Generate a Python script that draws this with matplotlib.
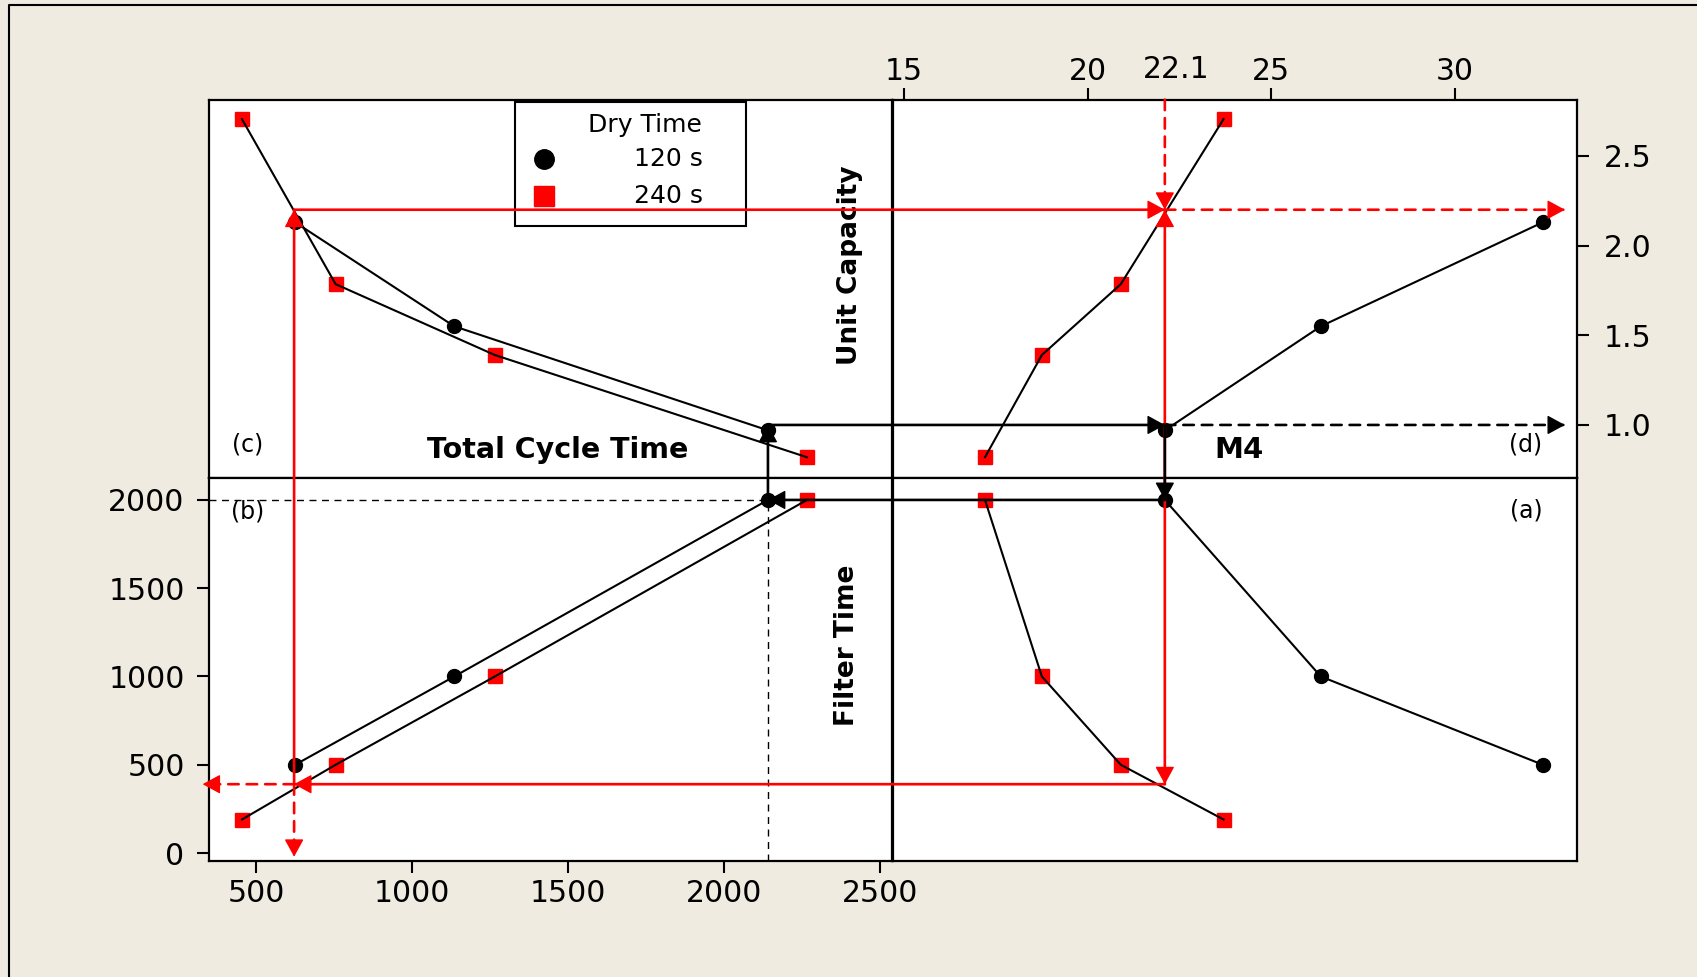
import matplotlib
matplotlib.use("Agg")
import matplotlib.pyplot as plt
from matplotlib.patches import ConnectionPatch, Rectangle
from matplotlib.lines import Line2D
from matplotlib.text import Annotation

# measured points, two dry times
filter_120 = [500, 1000, 2000]
filter_240 = [190, 500, 1000, 2000]
cycle_120 = [625, 1135, 2140]
cycle_240 = [455, 755, 1265, 2265]
m4_120 = [32.4, 26.35, 22.1]
m4_240 = [23.7, 20.9, 18.75, 17.2]
cap_120 = [2.13, 1.55, 0.97]
cap_240 = [2.705, 1.785, 1.39, 0.82]

# reading path starting from M4 = 22.1
path_m4 = 22.1
red_cap, red_filter, red_cycle = 2.2, 390, 622
black_cap, black_filter, black_cycle = 1.0, 2000, 2140

cycle_ticks = [500, 1000, 1500, 2000, 2500]
filter_ticks = [0, 500, 1000, 1500, 2000]
m4_ticks = [15, 20, 25, 30]
cap_ticks = [1.0, 1.5, 2.0, 2.5]
cap_labels = ["1.0", "1.5", "2.0", "2.5"]

cycle_lim = (349, 2539)
filter_lim = (-45, 2122)
m4_lim = (14.68, 33.33)
cap_lim = (0.702, 2.814)

W, H = 1697, 977
BG = "#EFEBE1"

fig = plt.figure(figsize=(W / 100, H / 100), dpi=100, facecolor=BG)


def fx(px):
    return px / W


def fy(py):
    return 1 - py / H


def box(l, t, r, b):
    return [l / W, 1 - b / H, (r - l) / W, (b - t) / H]


x0, xm, x1 = 208.9, 892.5, 1577
y0, ym, y1 = 99.6, 478.4, 861

ax_c = fig.add_axes(box(x0, y0, xm, ym))
ax_d = fig.add_axes(box(xm, y0, x1, ym))
ax_b = fig.add_axes(box(x0, ym, xm, y1))
ax_a = fig.add_axes(box(xm, ym, x1, y1))

for ax in (ax_a, ax_b, ax_c, ax_d):
    ax.set_facecolor("white")
    for sp in ax.spines.values():
        sp.set_linewidth(1.6)
        sp.set_color("black")
    ax.tick_params(which="both", direction="out", length=8.5, width=1.5,
                   labelsize=21.5, colors="black")
    ax.set_xticks([])
    ax.set_yticks([])

ax_c.set_xlim(cycle_lim); ax_c.set_ylim(cap_lim)
ax_b.set_xlim(cycle_lim); ax_b.set_ylim(filter_lim)
ax_d.set_xlim(m4_lim); ax_d.set_ylim(cap_lim)
ax_a.set_xlim(m4_lim); ax_a.set_ylim(filter_lim)

ax_b.set_xticks(cycle_ticks)
ax_b.set_yticks(filter_ticks)
ax_b.tick_params(axis="y", pad=9)
ax_b.tick_params(axis="x", pad=4.5)

ax_d.set_xticks(m4_ticks)
ax_d.xaxis.tick_top()
ax_d.tick_params(axis="x", pad=1)
ax_d.set_yticks(cap_ticks, cap_labels)
ax_d.yaxis.tick_right()
ax_d.tick_params(axis="y", pad=11)


def series(ax, xs, ys, marker, color):
    ax.plot(xs, ys, color="black", lw=1.5, zorder=3)
    ax.plot(xs, ys, ls="none", marker=marker, ms=10, color=color,
            mec=color, zorder=2)


series(ax_c, cycle_120, cap_120, "o", "black")
series(ax_c, cycle_240, cap_240, "s", "red")
series(ax_d, m4_120, cap_120, "o", "black")
series(ax_d, m4_240, cap_240, "s", "red")
series(ax_b, cycle_120, filter_120, "o", "black")
series(ax_b, cycle_240, filter_240, "s", "red")
series(ax_a, m4_120, filter_120, "o", "black")
series(ax_a, m4_240, filter_240, "s", "red")

# thin guides down to the cycle-time and filter-time axes
ax_b.hlines(black_filter, cycle_lim[0], black_cycle, colors="black",
            lw=1.0, linestyles=(0, (5, 4)), zorder=1)
ax_b.vlines(black_cycle, filter_lim[0], black_filter, colors="black",
            lw=1.0, linestyles=(0, (5, 4)), zorder=1)

DASH = (0, (4, 3))
HEAD = 0.55
MS = 20
dirs = {"right": (1, 0), "left": (-1, 0), "up": (0, 1), "down": (0, -1)}


def link(p, q, color, ls="-"):
    (axa, xa, ya), (axb, xb, yb) = p, q
    con = ConnectionPatch(xyA=(xa, ya), coordsA=axa.transData,
                          xyB=(xb, yb), coordsB=axb.transData,
                          color=color, lw=1.9, linestyle=ls, zorder=5)
    fig.add_artist(con)


def head(ax, x, y, d, color):
    ux, uy = dirs[d]
    L = HEAD * MS
    ann = Annotation("", xy=(x, y), xycoords=ax.transData,
                     xytext=(-ux * L, -uy * L), textcoords="offset points",
                     arrowprops=dict(arrowstyle=f"-|>,head_length={HEAD},head_width=0.3",
                                     mutation_scale=MS, color=color, lw=1,
                                     shrinkA=0, shrinkB=0),
                     zorder=6)
    fig.add_artist(ann)


# red path
link((ax_c, red_cycle, red_cap), (ax_d, path_m4, red_cap), "red")
head(ax_d, path_m4, red_cap, "right", "red")
link((ax_d, path_m4, cap_lim[1]), (ax_d, path_m4, red_cap), "red", DASH)
head(ax_d, path_m4, red_cap, "down", "red")
link((ax_d, path_m4, red_cap), (ax_d, 33.0, red_cap), "red", DASH)
head(ax_d, 33.0, red_cap, "right", "red")
link((ax_a, path_m4, red_filter), (ax_d, path_m4, red_cap), "red")
head(ax_d, path_m4, red_cap, "up", "red")
head(ax_a, path_m4, red_filter, "down", "red")
link((ax_a, path_m4, red_filter), (ax_b, red_cycle, red_filter), "red")
head(ax_b, red_cycle, red_filter, "left", "red")
link((ax_b, red_cycle, red_filter), (ax_b, 329, red_filter), "red", DASH)
head(ax_b, 329, red_filter, "left", "red")
link((ax_b, red_cycle, red_filter), (ax_c, red_cycle, red_cap), "red")
head(ax_c, red_cycle, red_cap, "up", "red")
link((ax_b, red_cycle, red_filter), (ax_b, red_cycle, -21), "red", DASH)
head(ax_b, red_cycle, -21, "down", "red")

# black path
link((ax_c, black_cycle, black_cap), (ax_d, path_m4, black_cap), "black")
head(ax_d, path_m4, black_cap, "right", "black")
link((ax_d, path_m4, black_cap), (ax_d, 33.0, black_cap), "black", DASH)
head(ax_d, 33.0, black_cap, "right", "black")
link((ax_d, path_m4, black_cap), (ax_a, path_m4, black_filter), "black")
head(ax_a, path_m4, black_filter, "down", "black")
link((ax_a, path_m4, black_filter), (ax_b, black_cycle, black_filter), "black")
head(ax_b, black_cycle, black_filter, "left", "black")
link((ax_b, black_cycle, black_filter), (ax_c, black_cycle, black_cap), "black")
head(ax_c, black_cycle, black_cap, "up", "black")

# label for the M4 reading on the top axis
ax_d.annotate("22.1", xy=(path_m4, 1.0), xycoords=("data", "axes fraction"),
              xytext=(8, 11), textcoords="offset points", ha="center",
              va="bottom", fontsize=21.5, annotation_clip=False)

# quadrant titles and letters
fig.text(fx(849.6), fy(265), "Unit Capacity", rotation=90, ha="center",
         va="center", fontsize=19, fontweight="bold")
fig.text(fx(847.4), fy(645), "Filter Time", rotation=90, ha="center",
         va="center", fontsize=19, fontweight="bold")
fig.text(fx(557.4), fy(450.2), "Total Cycle Time", ha="center", va="center",
         fontsize=20.5, fontweight="bold")
fig.text(fx(1239), fy(450.2), "M4", ha="center", va="center",
         fontsize=21, fontweight="bold")
for lab, px, py in [("(c)", 247.8, 444.8), ("(d)", 1526, 444.8),
                    ("(b)", 247.8, 512), ("(a)", 1526, 510.8)]:
    fig.text(fx(px), fy(py), lab, ha="center", va="center", fontsize=17)

# legend box
fig.add_artist(Rectangle((fx(515), fy(225.7)), (746 - 515) / W, (225.7 - 101.7) / H,
                         transform=fig.transFigure, facecolor="white",
                         edgecolor="black", lw=1.5, zorder=4))
fig.text(fx(702), fy(125), "Dry Time", ha="right", va="center", fontsize=18,
         zorder=4.5)
for lab, mk, col, py in [("120 s", "o", "black", 159), ("240 s", "s", "red", 195.7)]:
    fig.add_artist(Line2D([fx(544)], [fy(py)], marker=mk, ms=14, color=col,
                          mec=col, ls="none", transform=fig.transFigure,
                          zorder=4.5))
    fig.text(fx(703), fy(py), lab, ha="right", va="center", fontsize=18,
             zorder=4.5)

# outer frame (left and top edges)
fig.add_artist(Line2D([fx(9), fx(9), 1.0], [0.0, fy(4.5), fy(4.5)],
                      transform=fig.transFigure, color="black", lw=1.5))

fig.savefig("out.png", dpi=100, facecolor=BG)
